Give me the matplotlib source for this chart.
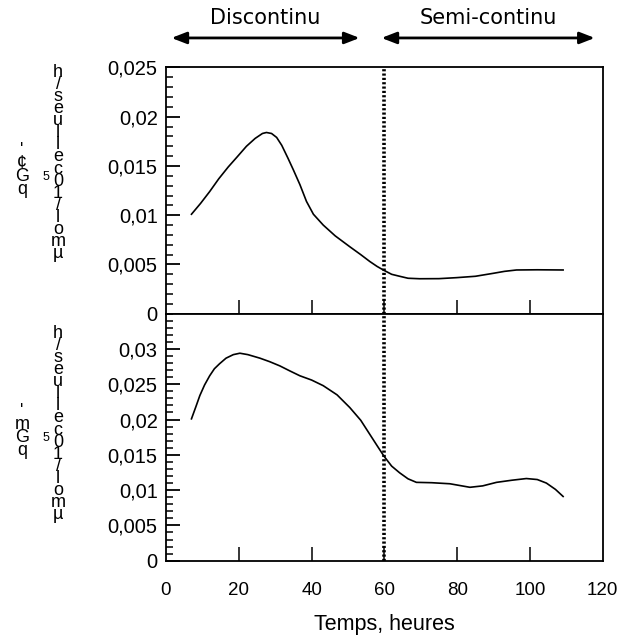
import matplotlib
matplotlib.use("Agg")
import matplotlib.pyplot as plt
from matplotlib.ticker import MultipleLocator, FixedLocator, FuncFormatter

# ---- data ----
t_top = [7.0, 9.5, 12.0, 14.5, 17.1, 19.5, 22.1, 24.5, 26.5, 27.6, 29.0, 30.4, 31.8, 33.5,
         35.0, 36.8, 38.6, 40.5, 43.2, 46.5, 50.5, 53.5, 56.0, 58.0, 59.9, 62.0, 64.2,
         66.5, 69.7, 75.0, 79.8, 85.0, 89.9, 93.0, 96.3, 102.0, 109.1]
q_top = [0.0101, 0.0112, 0.0124, 0.0137, 0.0149, 0.0159, 0.0170, 0.0178, 0.0183, 0.0184,
         0.0183, 0.0179, 0.0171, 0.0158, 0.0146, 0.0131, 0.0114, 0.0101, 0.0090, 0.0079,
         0.0068, 0.0060, 0.0053, 0.0048, 0.0044, 0.0040, 0.0038, 0.0036, 0.00355, 0.00356,
         0.00366, 0.0038, 0.0041, 0.0043, 0.00444, 0.00446, 0.00444]

t_bot = [7.0, 8.2, 9.3, 10.6, 12.0, 13.3, 14.7, 16.5, 18.5, 20.3, 22.5, 25.8, 28.5, 31.3,
         34.0, 36.8, 40.0, 43.2, 47.0, 50.5, 53.5, 56.0, 58.0, 59.9, 62.0, 64.2, 66.5,
         68.8, 73.0, 78.0, 83.5, 87.0, 90.8, 95.0, 99.0, 102.0, 104.5, 107.0, 109.1]
q_bot = [0.0201, 0.0218, 0.0234, 0.0249, 0.0262, 0.0272, 0.0279, 0.0287, 0.0292, 0.0294,
         0.0292, 0.0287, 0.0282, 0.0276, 0.0269, 0.0262, 0.0256, 0.0248, 0.0235, 0.0217,
         0.0199, 0.0179, 0.0163, 0.0148, 0.0134, 0.01245, 0.0116, 0.0111, 0.01105, 0.0109,
         0.0104, 0.0106, 0.0111, 0.0114, 0.01164, 0.0115, 0.0110, 0.0101, 0.0091]

x_ticks = [0, 20, 40, 60, 80, 100, 120]
x_tick_labels = ["0", "20", "40", "60", "80", "100", "120"]
phase_split = 60
phases = ["Discontinu", "Semi-continu"]
phase_spans = [(1.5, 53.2), (59.2, 117.8)]
xlabel = "Temps, heures"

TICKFONT = "Liberation Sans"

def comma_fmt(v, pos):
    if abs(v) < 1e-12:
        return "0"
    s = ("%.3f" % v).rstrip("0").rstrip(".")
    return s.replace(".", ",")

fig = plt.figure(figsize=(6.24, 6.41), dpi=100)
ax1 = fig.add_axes([0.266, 0.5106, 0.700, 0.3841])
ax2 = fig.add_axes([0.266, 0.1253, 0.700, 0.3853])

for ax in (ax1, ax2):
    ax.set_xlim(0, 120)
    for sp in ax.spines.values():
        sp.set_linewidth(1.3)
    ax.xaxis.set_major_locator(FixedLocator([20, 40, 60, 80, 100]))
    ax.tick_params(axis="x", which="major", direction="in", length=10, width=1.1,
                   top=False, bottom=True)
    ax.tick_params(axis="y", which="major", direction="in", length=10, width=1.3,
                   left=True, right=False, labelsize=14.5, pad=6)
    ax.tick_params(axis="y", which="minor", direction="in", length=5, width=1.1,
                   left=True, right=False)
    ax.yaxis.set_major_formatter(FuncFormatter(comma_fmt))
    ax.yaxis.set_minor_locator(MultipleLocator(0.001))
    ax.axvline(phase_split, color="black", lw=2.6, linestyle=(0, (0.6, 0.6)), zorder=3)

ax1.set_ylim(0, 0.025)
ax1.yaxis.set_major_locator(MultipleLocator(0.005))
ax1.tick_params(axis="x", labelbottom=False)
ax1.plot(t_top, q_top, color="black", lw=1.2, solid_joinstyle="round")

ax2.set_ylim(0, 0.035)
ax2.yaxis.set_major_locator(FixedLocator([0, 0.005, 0.01, 0.015, 0.02, 0.025, 0.03]))
ax2.plot(t_bot, q_bot, color="black", lw=1.2, solid_joinstyle="round")
ax2.set_xticks(x_ticks)
ax2.set_xticklabels(x_tick_labels)
ax2.tick_params(axis="x", labelsize=13.5, pad=15)
for tl in ax2.xaxis.get_major_ticks():
    if tl.get_loc() in (0, 120):
        tl.tick1line.set_visible(False)
ax2.set_xlabel(xlabel, fontsize=15.5, family=TICKFONT, labelpad=11)

for lab in ax1.get_yticklabels() + ax2.get_yticklabels() + ax2.get_xticklabels():
    lab.set_family(TICKFONT)

# phase arrows
for name, (a, b) in zip(phases, phase_spans):
    ax1.annotate("", xy=(b, 1.12), xytext=(a, 1.12), xycoords=("data", "axes fraction"),
                 textcoords=("data", "axes fraction"),
                 arrowprops=dict(arrowstyle="<|-|>,head_length=0.9,head_width=0.35",
                                 color="black", lw=2, shrinkA=0, shrinkB=0),
                 annotation_clip=False)
    ax1.text((a + b) / 2, 1.2, name, transform=ax1.get_xaxis_transform(),
             ha="center", va="center", fontsize=15, family="DejaVu Sans")

# garbled y-axis labels (stacked glyphs as in the reference), one text block per column
W, H = 624.0, 641.0
col2 = "h\n/\ns\ne\nu\nl\nl\ne\nc\n0\n1\n/\nl\no\nm\nµ"
col1_top = "'\n¢\nG\nq"
col1_bot = "'\nm\nG\nq"
offset = 261
for off, col1 in ((0, col1_top), (offset, col1_bot)):
    fig.text(58 / W, 1 - (163 + off) / H, col2, ha="center", va="center",
             fontsize=13, family=TICKFONT, linespacing=0.62)
    fig.text(46 / W, 1 - (177 + off) / H, "5", ha="center", va="center",
             fontsize=9, family=TICKFONT)
    fig.text(22 / W, 1 - (170 + off) / H, col1, ha="center", va="center",
             fontsize=13, family=TICKFONT, linespacing=0.68)

fig.savefig("out.png", dpi=100)
